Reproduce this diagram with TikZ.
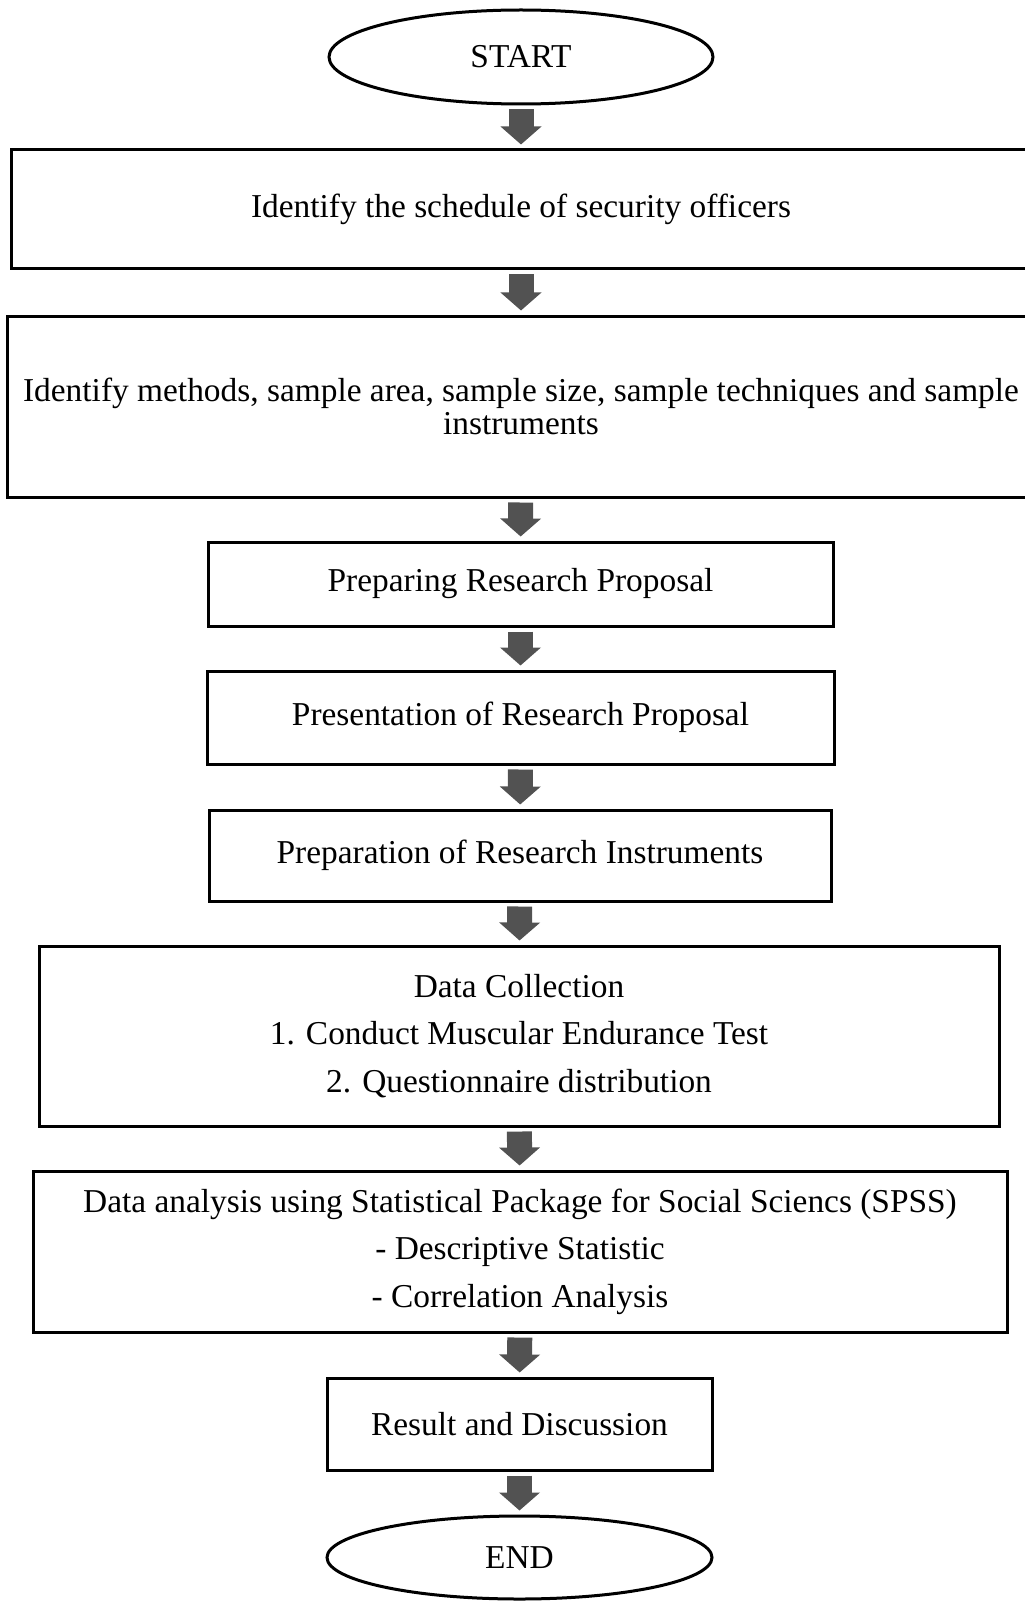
\documentclass[tikz,border=0pt]{standalone}
\usepackage{fontspec}
\setmainfont{Liberation Serif}
\usetikzlibrary{arrows.meta,shapes.geometric}
\tikzset{
  box/.style={draw, line width=0.06cm, align=center, inner sep=0pt},
  term/.style={draw, ellipse, line width=0.06cm, inner sep=0pt},
  flow/.style={line width=0.5cm, draw=black!68,
    -{Triangle[width=0.8cm,length=0.36cm]}, shorten <=0.08cm, shorten >=0.08cm}
}
\begin{document}
\begin{tikzpicture}[font=\fontsize{19}{22}\selectfont]
\useasboundingbox (0,0) rectangle (20.48,-32.02);
\node[term, minimum width=7.68cm, minimum height=1.88cm] at (10.42,-1.14) (start) {START};
\node[box, minimum width=20.36cm, minimum height=2.38cm] at (10.42,-4.19) (sched) {Identify the schedule of security officers};
\node[box, minimum width=20.52cm, minimum height=3.62cm, font=\fontsize{19}{19}\selectfont] at (10.42,-8.13) (methods) {Identify methods, sample area, sample size, sample techniques and sample\\instruments};
\node[box, minimum width=12.5cm, minimum height=1.68cm] at (10.41,-11.68) (prep) {Preparing Research Proposal};
\node[box, minimum width=12.54cm, minimum height=1.86cm] at (10.41,-14.35) (pres) {Presentation of Research Proposal};
\node[box, minimum width=12.44cm, minimum height=1.82cm] at (10.40,-17.11) (instr) {Preparation of Research Instruments};
\node[box, minimum width=19.2cm, minimum height=3.6cm, font=\fontsize{19}{27}\selectfont] at (10.38,-20.72) (collect) {Data Collection\\1. Conduct Muscular Endurance Test\\2. Questionnaire distribution};
\node[box, minimum width=19.48cm, minimum height=3.22cm, font=\fontsize{19}{27}\selectfont] at (10.40,-25.03) (analysis) {Data analysis using Statistical Package for Social Sciencs (SPSS)\\- Descriptive Statistic\\- Correlation Analysis};
\node[box, minimum width=7.7cm, minimum height=1.84cm] at (10.39,-28.48) (result) {Result and Discussion};
\node[term, minimum width=7.7cm, minimum height=1.66cm] at (10.39,-31.15) (end) {END};
\draw[flow] (start) -- (sched);
\draw[flow] (sched) -- (methods);
\draw[flow] (methods) -- (prep);
\draw[flow] (prep) -- (pres);
\draw[flow] (pres) -- (instr);
\draw[flow] (instr) -- (collect);
\draw[flow] (collect) -- (analysis);
\draw[flow] (analysis) -- (result);
\draw[flow] (result) -- (end);
\end{tikzpicture}
\end{document}
